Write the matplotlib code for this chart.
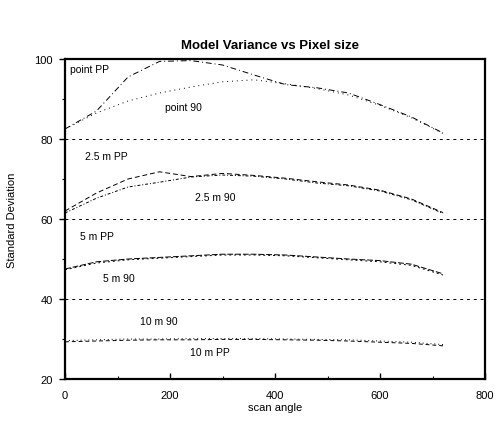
import matplotlib
matplotlib.use("Agg")
import matplotlib.pyplot as plt
from matplotlib.ticker import MultipleLocator

plt.rcParams['font.family'] = ['Liberation Sans', 'DejaVu Sans']

angles = [0, 60, 120, 180, 240, 300, 360, 420, 480, 540, 600, 660, 720]
point_pp = [82.5, 87.0, 95.5, 99.4, 99.6, 98.5, 96.0, 93.6, 92.8, 91.5, 88.6, 85.5, 81.5]
point_90 = [82.5, 86.5, 89.5, 91.5, 93.0, 94.3, 94.8, 93.8, 92.6, 91.0, 88.4, 85.3, 81.4]
m25_pp = [62.0, 66.5, 70.0, 71.8, 70.6, 71.4, 70.9, 70.2, 69.3, 68.5, 67.2, 65.0, 61.6]
m25_90 = [61.5, 65.2, 68.0, 69.2, 70.5, 71.0, 70.7, 70.0, 69.0, 68.3, 67.0, 64.8, 61.4]
m5_pp = [47.5, 49.3, 50.0, 50.4, 50.8, 51.2, 51.2, 51.0, 50.5, 50.0, 49.6, 48.7, 46.3]
m5_90 = [47.3, 49.0, 49.8, 50.2, 50.6, 51.0, 51.0, 50.8, 50.3, 49.8, 49.3, 48.4, 46.0]
m10_90 = [29.6, 29.8, 30.0, 30.0, 30.1, 30.1, 30.1, 30.0, 29.9, 29.8, 29.5, 29.2, 28.6]
m10_pp = [29.3, 29.5, 29.7, 29.8, 29.8, 29.9, 29.9, 29.8, 29.7, 29.5, 29.2, 28.9, 28.3]

labels = ["point PP", "point 90", "2.5 m PP", "2.5 m 90", "5 m PP", "5 m 90", "10 m 90", "10 m PP"]
label_pos = [(10, 97.5), (190, 88), (38, 75.8), (248, 65.5), (29, 55.8), (72, 45.2), (143, 34.5), (238, 26.8)]

fig = plt.figure(figsize=(4.97, 4.31), dpi=100)
ax = fig.add_axes([0.1308, 0.1183, 0.8451, 0.7425])

series = [point_pp, point_90, m25_pp, m25_90, m5_pp, m5_90, m10_90, m10_pp]
styles = [(0, (6, 3, 1, 3)), (0, (1, 4)), (0, (5, 3)), (0, (3, 2, 1, 2)),
          (0, (6, 2)), (0, (2, 3)), (0, (1, 3)), (0, (4, 3))]
for s, ls in zip(series, styles):
    ax.plot(angles, s, color='black', lw=0.7, linestyle=ls)

for y in [40, 60, 80]:
    ax.axhline(y, color='black', lw=0.7, linestyle=(0, (3, 4)), zorder=0)

for lab, (x, y) in zip(labels, label_pos):
    ax.text(x, y, lab, fontsize=7.5, va='center', ha='left', color='black')

ax.set_xlim(0, 800)
ax.set_ylim(20, 100)
ax.xaxis.set_major_locator(MultipleLocator(200))
ax.xaxis.set_minor_locator(MultipleLocator(100))
ax.yaxis.set_major_locator(MultipleLocator(20))
ax.yaxis.set_minor_locator(MultipleLocator(10))
ax.tick_params(axis='x', which='both', direction='in', labelsize=8, pad=8)
ax.tick_params(axis='y', which='both', direction='out', labelsize=8, pad=5)
ax.tick_params(which='major', length=4, width=1)
ax.tick_params(which='minor', length=2, width=0.8)
for sp in ax.spines.values():
    sp.set_linewidth(1.6)

ax.set_xlabel("scan angle", fontsize=8, labelpad=1)
ax.set_ylabel("Standard Deviation", fontsize=8, labelpad=12)
fig.text(0.543, 0.893, "Model Variance vs Pixel size", fontsize=9.5, fontweight='bold', ha='center', va='center')

fig.savefig("out.png", dpi=100)
